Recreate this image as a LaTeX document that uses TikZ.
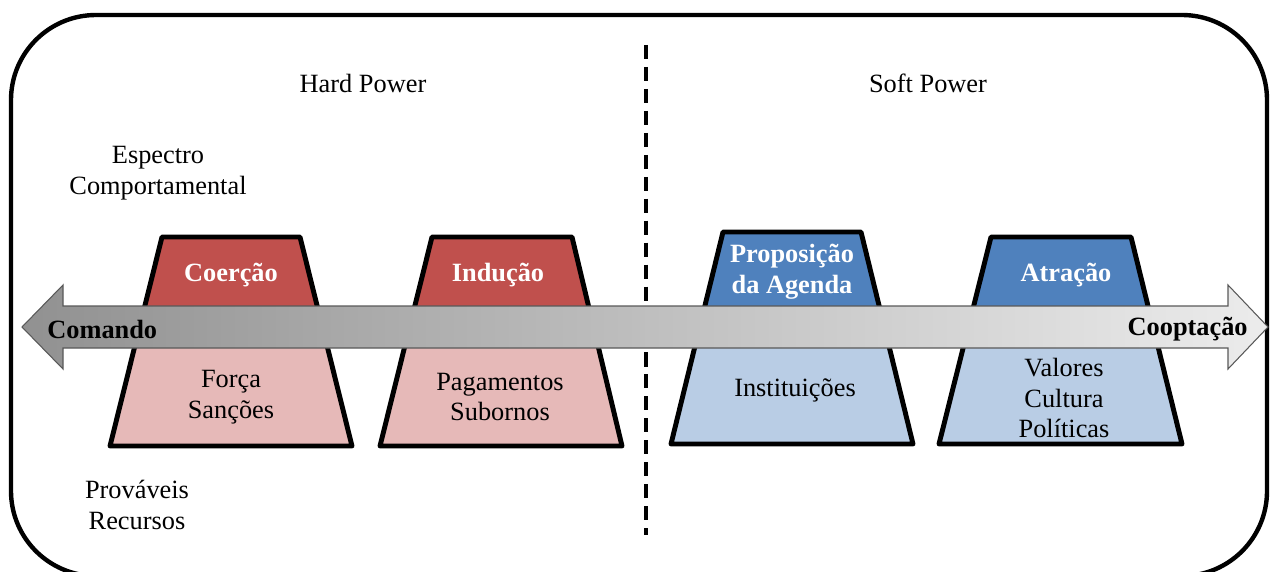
\documentclass[tikz,border=0pt]{standalone}
\usepackage{fontspec}
\setmainfont{Liberation Serif}
\usetikzlibrary{calc}

\definecolor{hardtop}{RGB}{192,80,77}
\definecolor{hardbot}{RGB}{230,185,184}
\definecolor{softtop}{RGB}{79,129,189}
\definecolor{softbot}{RGB}{185,205,229}
\definecolor{arrowdark}{RGB}{145,145,145}
\definecolor{arrowlight}{RGB}{236,236,236}

\tikzset{
  txt/.style={font=\fontsize{15}{17.5}\selectfont, align=center, inner sep=0pt},
  boxtitle/.style={txt, font=\fontsize{15}{17.5}\selectfont\bfseries, text=white},
  endlabel/.style={txt, font=\fontsize{15}{17.5}\selectfont\bfseries},
  boxline/.style={line width=2.8pt, line join=round},
}

\begin{document}
\begin{tikzpicture}[x=0.02cm, y=-0.02cm]

\useasboundingbox (0,0) rectangle (1270,571);

% frame
\draw[line width=2.5pt, rounded corners=1.7cm] (11,15) rectangle (1267,576);

% split between hard and soft power
\draw[line width=2.3pt, dash pattern=on 8pt off 4.5pt] (646,45) -- (646,535);

\node[txt] (hard) at (363,83) {Hard Power};
\node[txt] (soft) at (928,83) {Soft Power};

\node[txt] (spectrum) at (158,173) {Espectro\\Comportamental};
\node[txt] (resources) at (137,505) {Prováveis\\Recursos};

% Coercao
\coordinate (c-tl) at (162,237); \coordinate (c-tr) at (300,237);
\coordinate (c-br) at (352,446); \coordinate (c-bl) at (110,446);
\fill[hardbot] (c-tl)--(c-tr)--(c-br)--(c-bl)--cycle;
\fill[hardtop] (c-tl)--(c-tr)--($(c-tr)!0.43!(c-br)$)--($(c-tl)!0.43!(c-bl)$)--cycle;
\draw[boxline] (c-tl)--(c-tr)--(c-br)--(c-bl)--cycle;

% Inducao
\coordinate (i-tl) at (432,237); \coordinate (i-tr) at (572,237);
\coordinate (i-br) at (622,446); \coordinate (i-bl) at (380,446);
\fill[hardbot] (i-tl)--(i-tr)--(i-br)--(i-bl)--cycle;
\fill[hardtop] (i-tl)--(i-tr)--($(i-tr)!0.43!(i-br)$)--($(i-tl)!0.43!(i-bl)$)--cycle;
\draw[boxline] (i-tl)--(i-tr)--(i-br)--(i-bl)--cycle;

% Proposicao da Agenda
\coordinate (p-tl) at (723,232); \coordinate (p-tr) at (861,232);
\coordinate (p-br) at (913,444); \coordinate (p-bl) at (671,444);
\fill[softbot] (p-tl)--(p-tr)--(p-br)--(p-bl)--cycle;
\fill[softtop] (p-tl)--(p-tr)--($(p-tr)!0.45!(p-br)$)--($(p-tl)!0.45!(p-bl)$)--cycle;
\draw[boxline] (p-tl)--(p-tr)--(p-br)--(p-bl)--cycle;

% Atracao
\coordinate (a-tl) at (991,237); \coordinate (a-tr) at (1131,237);
\coordinate (a-br) at (1182,444); \coordinate (a-bl) at (939,444);
\fill[softbot] (a-tl)--(a-tr)--(a-br)--(a-bl)--cycle;
\fill[softtop] (a-tl)--(a-tr)--($(a-tr)!0.43!(a-br)$)--($(a-tl)!0.43!(a-bl)$)--cycle;
\draw[boxline] (a-tl)--(a-tr)--(a-br)--(a-bl)--cycle;

% the spectrum arrow
\shadedraw[left color=arrowdark, right color=arrowlight, draw=gray!70!black, line width=0.6pt]
  (22,327) -- (63,285) -- (63,306) -- (1228,306) -- (1228,285) -- (1268,327)
  -- (1228,369) -- (1228,348) -- (63,348) -- (63,369) -- cycle;

\node[endlabel, anchor=west] (command) at (47,329) {Comando};
\node[endlabel, anchor=east] (cooption) at (1248,329) {Cooptação};

\node[boxtitle] (coercion) at (231,275) {Coerção};
\node[boxtitle] (inducement) at (498,275) {Indução};
\node[boxtitle] (agenda) at (792,272) {Proposição\\da Agenda};
\node[boxtitle] (attraction) at (1066,275) {Atração};

\node[txt] (force) at (231,397) {Força\\Sanções};
\node[txt] (payment) at (500,397) {Pagamentos\\Subornos};
\node[txt] (institutions) at (795,390) {Instituições};
\node[txt] (values) at (1064,398) {Valores\\Cultura\\Políticas};

\end{tikzpicture}
\end{document}
